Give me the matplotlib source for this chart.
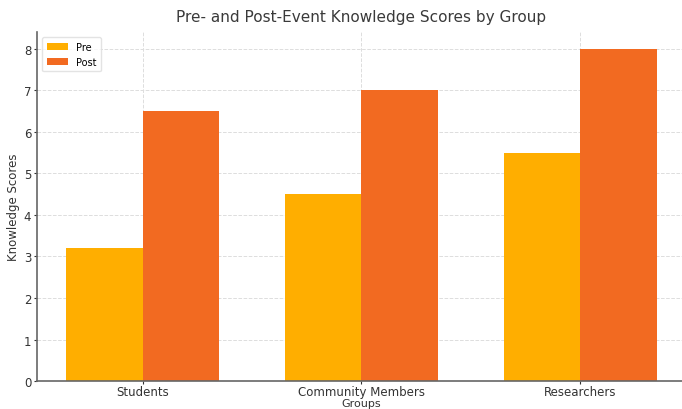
import matplotlib
matplotlib.use("Agg")
import matplotlib.pyplot as plt
import numpy as np

groups = ["Students", "Community Members", "Researchers"]
pre_scores = [3.2, 4.5, 5.5]
post_scores = [6.5, 7.0, 8.0]

pre_color = "#FFAE00"
post_color = "#F26A21"

fig = plt.figure(figsize=(6.82, 4.10), dpi=100)
ax = fig.add_axes([0.054, 0.068, 0.952, 0.8515])

x = np.arange(len(groups))
w = 0.35
ax.bar(x - w / 2, pre_scores, w, label="Pre", color=pre_color, zorder=2)
ax.bar(x + w / 2, post_scores, w, label="Post", color=post_color, zorder=2)

ax.set_xticks(x)
ax.set_xticklabels(groups)
ax.set_yticks(range(0, 9))
ax.set_title("Pre- and Post-Event Knowledge Scores by Group", fontsize=11, color="#3a3a3a", pad=8)
ax.set_xlabel("Groups", fontsize=8, color="#333333", labelpad=0)
ax.set_ylabel("Knowledge Scores", fontsize=8.5, color="#333333", labelpad=3)
ax.tick_params(axis="y", labelsize=8.5, colors="#333333", length=2, pad=2)
ax.tick_params(axis="x", labelsize=8.5, colors="#333333", length=2, pad=1)

ax.grid(True, linestyle="--", color="#dddddd", linewidth=0.7, zorder=0)
ax.set_axisbelow(True)
for s in ["top", "right"]:
    ax.spines[s].set_visible(False)
for s in ["left", "bottom"]:
    ax.spines[s].set_color("#666666")
    ax.spines[s].set_linewidth(1.2)

ax.legend(loc="upper left", fontsize=7, handlelength=2.2, borderpad=0.5, labelspacing=0.5, framealpha=0.8, edgecolor="#dddddd")

fig.savefig("out.png", dpi=100)
